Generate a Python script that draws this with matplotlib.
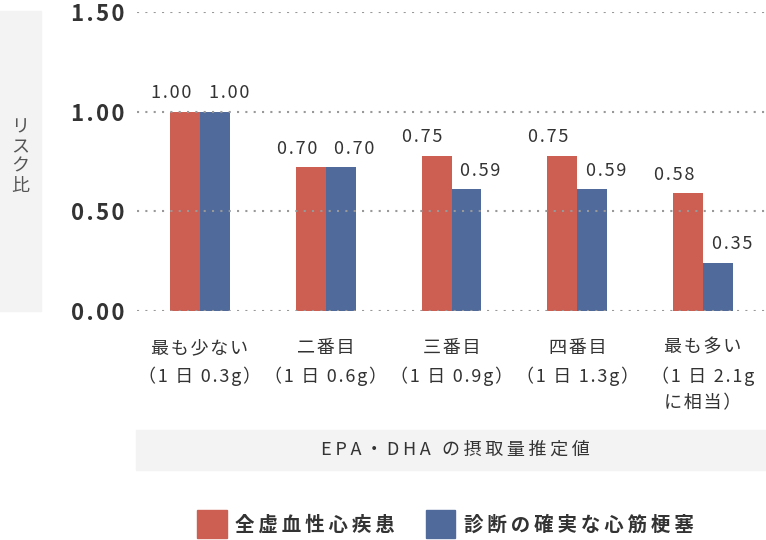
import matplotlib
matplotlib.use("Agg")
import matplotlib.pyplot as plt
from matplotlib.patches import Rectangle
import numpy as np

# CJK font first, DejaVu as fallback (hair/thin spaces used for letter spacing)
plt.rcParams['font.family'] = ['Noto Sans CJK JP', 'DejaVu Sans']

# ------------------------------------------------------------
# Data
categories = [
    "最も少ない\n（1 日 0.3g）",
    "二番目\n（1 日 0.6g）",
    "三番目\n（1 日 0.9g）",
    "四番目\n（1 日 1.3g）",
    "最も多い\n（1 日 2.1g\nに相当）",
]
series_names = ["全虚血性心疾患", "診断の確実な心筋梗塞"]
# bar heights as drawn in the picture
heights_ihd = [1.00, 0.72, 0.78, 0.78, 0.59]
heights_mi = [1.00, 0.72, 0.61, 0.61, 0.24]
# value labels printed above the bars
labels_ihd = ["1.00", "0.70", "0.75", "0.75", "0.58"]
labels_mi = ["1.00", "0.70", "0.59", "0.59", "0.35"]
yticks = [0.0, 0.5, 1.0, 1.5]
ylabel = "リスク比"
xlabel = "EPA・DHA の摂取量推定値"

red = "#CD5E52"
blue = "#4F6A9B"
text_col = "#333333"
panel_col = "#F3F3F3"

HAIR = "\u200a"
THIN = "\u2009"


def spaced(s, sp=HAIR):
    """add a little letter spacing between characters"""
    return "\n".join(sp.join(line) for line in s.split("\n"))


# ------------------------------------------------------------
W, H = 766, 540
fig = plt.figure(figsize=(W / 100, H / 100), dpi=100)

def fx(px):
    return px / W

def fy(py):
    return 1 - py / H

ax = fig.add_axes([fx(137), fy(311), fx(766) - fx(137), fy(12) - fy(311)])

x = np.arange(len(categories))
bw = 0.238
ax.bar(x - bw / 2, heights_ihd, bw, color=red, zorder=2)
ax.bar(x + bw / 2, heights_mi, bw, color=blue, zorder=2)

for xi, h, lab in zip(x, heights_ihd, labels_ihd):
    ax.annotate(spaced(lab), (xi - bw / 2, h), xytext=(-10, 7), textcoords="offset points",
                ha="center", va="bottom", fontsize=13, color=text_col)
for xi, h, lab in zip(x, heights_mi, labels_mi):
    ax.annotate(spaced(lab), (xi + bw / 2, h), xytext=(10, 7), textcoords="offset points",
                ha="center", va="bottom", fontsize=13, color=text_col)

ax.set_xlim(-0.5, 4.5)
ax.set_ylim(0, 1.5)
ax.set_yticks(yticks)
ax.set_yticklabels([spaced(f"{v:.2f}") for v in yticks], fontsize=16, fontweight="bold",
                   color=text_col)
ax.set_xticks(x)
ax.set_xticklabels([spaced(c) for c in categories], fontsize=13, color=text_col,
                   linespacing=1.6)
ax.tick_params(axis="both", length=0)
ax.tick_params(axis="y", pad=9)
ax.tick_params(axis="x", pad=20)
for s in ax.spines.values():
    s.set_visible(False)
ax.yaxis.grid(True, color="#999999", linestyle=(0, (1, 3)), linewidth=1.5, zorder=3)
ax.set_axisbelow(False)

# y label panel
fig.patches.append(Rectangle((0, fy(311)), fx(41), fy(11) - fy(311), transform=fig.transFigure,
                             color=panel_col, zorder=0))
fig.text(fx(20), fy(157), "\n".join(ylabel), ha="center", va="center", fontsize=13,
         color="#555555", linespacing=1.1)

# x label panel
fig.patches.append(Rectangle((fx(136), fy(470)), 1 - fx(136), fy(430) - fy(470),
                             transform=fig.transFigure, color=panel_col, zorder=0))
fig.text(fx(455), fy(450), spaced(xlabel, THIN), ha="center", va="center", fontsize=13,
         color=text_col)

# legend
for (x0, x1, tx), col, name in zip([(197, 227, 235), (426, 455, 464)], [red, blue], series_names):
    fig.patches.append(Rectangle((fx(x0), fy(538)), fx(x1) - fx(x0), fy(510) - fy(538),
                                 transform=fig.transFigure, color=col))
    fig.text(fx(tx), fy(525), spaced(name, THIN), ha="left", va="center", fontsize=14,
             fontweight="bold", color=text_col)

fig.savefig("out.png", dpi=100)
